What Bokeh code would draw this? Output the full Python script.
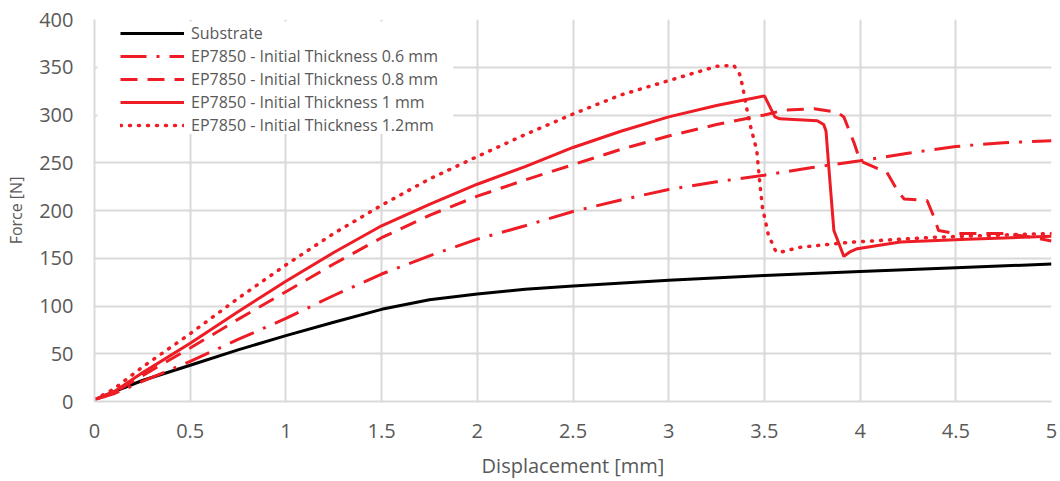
from bokeh.plotting import figure
from bokeh.models import Range1d, FixedTicker, Legend, LegendItem, BoxAnnotation
from bokeh.embed import file_html
from bokeh.resources import INLINE

# ---- data ----
sub_x = [0, 0.1, 0.25, 0.5, 0.75, 1.0, 1.25, 1.5, 1.75, 2.0, 2.25, 2.5, 3.0, 3.5, 4.0, 4.5, 5.0]
sub_y = [2, 10, 22, 38, 54, 69, 83, 96.5, 106.5, 112.5, 117.5, 121, 127, 132, 136, 140, 144]

t06_x = [0, 0.1, 0.25, 0.5, 0.75, 1.0, 1.25, 1.5, 1.75, 2.0, 2.25, 2.5, 2.75, 3.0, 3.25, 3.5,
         3.75, 4.0, 4.25, 4.5, 4.75, 5.0]
t06_y = [2, 8, 21, 42, 65, 87, 111, 133.5, 152.5, 170, 184, 199, 211, 222, 230, 237,
         245, 252, 260, 267, 271, 273]

t08_x = [0, 0.1, 0.25, 0.5, 0.75, 1.0, 1.25, 1.5, 1.75, 2.0, 2.25, 2.5, 2.75, 3.0, 3.25, 3.5,
         3.6, 3.76, 3.88, 3.915, 3.97, 4.0, 4.09, 4.14, 4.195, 4.23, 4.35, 4.386, 4.41, 4.49,
         4.75, 4.9, 5.0]
t08_y = [2, 9, 27, 56, 86, 115, 144, 171.5, 195, 215, 232, 248, 264, 278, 290, 300,
         305, 306.5, 303, 298, 270, 252, 244, 240, 221, 212, 210.5, 193, 179, 176,
         176, 172, 168]

t10_x = [0, 0.1, 0.25, 0.5, 0.75, 1.0, 1.25, 1.5, 1.75, 2.0, 2.25, 2.5, 2.75, 3.0, 3.25,
         3.4, 3.5, 3.52, 3.555, 3.58, 3.776, 3.81, 3.822, 3.835, 3.863, 3.915, 3.95, 3.985,
         4.21, 4.56, 5.0]
t10_y = [2, 10, 30, 61, 94, 126, 156, 184, 206.5, 227.5, 246, 266, 283, 298, 310,
         316, 320, 312, 298, 296, 294, 290, 283, 249, 179, 152, 157, 160,
         167, 170, 173]

t12_x = [0, 0.1, 0.25, 0.5, 0.75, 1.0, 1.25, 1.5, 1.75, 2.0, 2.25, 2.5, 2.75, 3.0, 3.15,
         3.25, 3.34, 3.37, 3.385, 3.42, 3.46, 3.475, 3.49, 3.52, 3.56, 3.576, 3.69, 3.95,
         4.386, 5.0]
t12_y = [2, 13, 36, 71, 108, 143, 176, 205.5, 233, 256.5, 279.5, 301, 321, 336, 345,
         351, 352, 343, 331, 294, 263, 231, 203, 175, 157, 156, 161.6, 166.8,
         172, 176]

labels = ["Substrate",
          "EP7850 - Initial Thickness 0.6 mm",
          "EP7850 - Initial Thickness 0.8 mm",
          "EP7850 - Initial Thickness 1 mm",
          "EP7850 - Initial Thickness 1.2mm"]

x_ticks = [0, 0.5, 1, 1.5, 2, 2.5, 3, 3.5, 4, 4.5, 5]
y_ticks = [0, 50, 100, 150, 200, 250, 300, 350, 400]

RED = "#EE1C25"
GRID = "#d9d9d9"
TXT = "#595959"
FONT = "Open Sans"

p = figure(width=1060, height=481, output_backend="svg", toolbar_location=None,
           x_range=Range1d(0, 5), y_range=Range1d(0, 400),
           min_border_left=94, min_border_right=9, min_border_top=19, min_border_bottom=80)
p.outline_line_color = None

for ax in (p.xaxis[0], p.yaxis[0]):
    ax.axis_line_color = GRID
    ax.axis_line_width = 2
    ax.major_tick_line_color = None
    ax.minor_tick_line_color = None
    ax.major_tick_out = 0
    ax.major_tick_in = 0
    ax.minor_tick_out = 0
    ax.minor_tick_in = 0
    ax.major_label_text_color = TXT
    ax.major_label_text_font = FONT
    ax.major_label_text_font_size = "20px"
    ax.axis_label_text_color = TXT
    ax.axis_label_text_font = FONT
    ax.axis_label_text_font_style = "normal"

p.xaxis.axis_label_text_font_size = "20px"
p.yaxis.axis_label_text_font_size = "16px"
p.xaxis.ticker = FixedTicker(ticks=x_ticks)
p.yaxis.ticker = FixedTicker(ticks=y_ticks)
p.xaxis.major_label_overrides = {0: "0", 1: "1", 2: "2", 3: "3", 4: "4", 5: "5"}
p.xaxis.axis_label = "Displacement [mm]"
p.yaxis.axis_label = "Force [N]"
p.xaxis.major_label_standoff = 22
p.yaxis.major_label_standoff = 21
p.xaxis.axis_label_standoff = 11
p.yaxis.axis_label_standoff = 9

p.xgrid.ticker = FixedTicker(ticks=x_ticks)
p.ygrid.ticker = FixedTicker(ticks=y_ticks)
p.xgrid.grid_line_color = GRID
p.ygrid.grid_line_color = GRID
p.xgrid.grid_line_width = 2
p.ygrid.grid_line_width = 2

r0 = p.line(sub_x, sub_y, line_color="black", line_width=3)
r1 = p.line(t06_x, t06_y, line_color=RED, line_width=3, line_dash="26 10 3 10")
r2 = p.line(t08_x, t08_y, line_color=RED, line_width=3, line_dash="17 10")
r3 = p.line(t10_x, t10_y, line_color=RED, line_width=3)
r4 = p.line(t12_x, t12_y, line_color=RED, line_width=3.5, line_dash="1 8", line_cap="round")

# white legend backdrop (Excel-style legend box)
p.add_layout(BoxAnnotation(left=0.016, right=1.875, bottom=280, top=398,
                           fill_color="white", fill_alpha=1, line_color=None,
                           level="underlay"))

legend = Legend(items=[LegendItem(label=l, renderers=[r]) for l, r in
                       zip(labels, [r0, r1, r2, r3, r4])],
                location=(26, 265))
legend.margin = 0
legend.padding = 2
legend.spacing = 1
legend.glyph_width = 64
legend.glyph_height = 20
legend.label_height = 20
legend.label_standoff = 7
legend.label_text_font = FONT
legend.label_text_font_size = "16px"
legend.label_text_color = TXT
legend.border_line_color = None
legend.background_fill_alpha = 0
p.add_layout(legend)

open("out.html", "w").write(file_html(p, INLINE))
